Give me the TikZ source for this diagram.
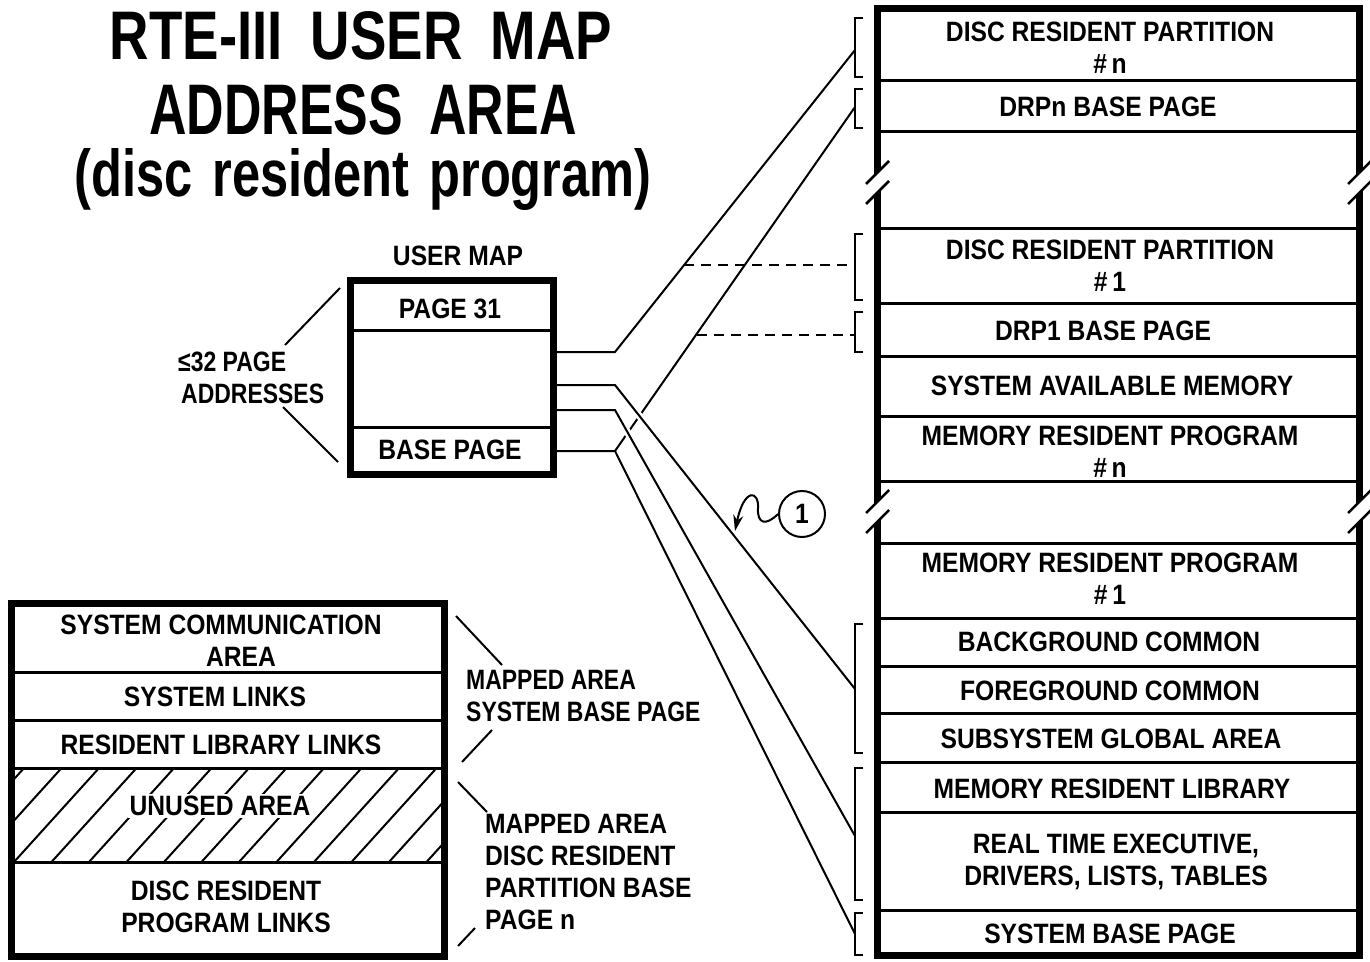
\documentclass[tikz,border=0pt]{standalone}
\usepackage{fontspec}
\usepackage{graphicx}
\setmainfont{Liberation Sans}[FakeStretch=0.88]
\newfontfamily\narrowfont{Liberation Sans}[FakeStretch=0.82]
\usetikzlibrary{arrows.meta,calc}
\begin{document}
\begin{tikzpicture}[x=1pt,y=-1pt,
  lbl/.style={font=\bfseries\fontsize{28}{32}\selectfont, inner sep=0pt, align=center},
  lbll/.style={lbl, align=left, anchor=west},
  nlbl/.style={lbll, font=\narrowfont\bfseries\fontsize{28}{32}\selectfont},
  thickbox/.style={line width=7pt},
  rowline/.style={line width=3pt},
  conn/.style={line width=2pt},
  halo/.style={preaction={draw=white,line width=7pt}},
  brk/.style={line width=2pt},
  dsh/.style={line width=2pt, dash pattern=on 10pt off 7pt},
  hatch/.style={line width=2pt},
  slash/.style={line width=2.5pt},
]
\useasboundingbox (0,0) rectangle (1370,961);
\fill[white] (0,0) rectangle (1370,961);

% ---------- title ----------
\node[inner sep=0pt] (t1) at (361,36) {\resizebox{502pt}{48pt}{\bfseries RTE-III\hspace{0.45em}USER\hspace{0.45em}MAP}};
\node[inner sep=0pt] (t2) at (363,110) {\resizebox{427pt}{50pt}{\bfseries ADDRESS\hspace{0.45em}AREA}};
\node[inner sep=0pt] (t3) at (363,180) {\resizebox*{577pt}{62pt}{\bfseries (disc\hspace{0.35em}resident\hspace{0.35em}program)}};

% ---------- user map ----------
\node[lbl] (umlabel) at (458,256) {USER MAP};
\draw[thickbox] (350.5,280.5) rectangle (553.5,474.5);
\draw[rowline] (354,330) -- (550,330);
\draw[rowline] (354,427) -- (550,427);
\node[lbl] (p31) at (450,309) {PAGE 31};
\node[lbl] (bp) at (450,450) {BASE PAGE};
\node[nlbl] (le32) at (178,378) {≤32 PAGE\\\hspace*{3pt}ADDRESSES};
\coordinate (la1) at (285,345); \coordinate (la2) at (340,288);
\coordinate (lb1) at (283,407); \coordinate (lb2) at (338,462);
\draw[conn] (la1) -- (la2);
\draw[conn] (lb1) -- (lb2);

% ---------- connector coordinates ----------
\coordinate (um1) at (557,352); \coordinate (b1) at (615,352);
\coordinate (um2) at (557,385); \coordinate (b2) at (615,385);
\coordinate (um3) at (557,410); \coordinate (b3) at (615,410);
\coordinate (um4) at (557,451); \coordinate (b4) at (615,451);
\coordinate (brdrpn) at (855,50);
\coordinate (brdrpnbp) at (855,107);
\coordinate (brdrpa) at (855,265);
\coordinate (brdrpabp) at (855,335);
\coordinate (brcom) at (855,689);
\coordinate (brrte) at (855,836);
\coordinate (brsbp) at (855,934);
\coordinate (d1) at (684,265);
\coordinate (d2) at (697,335);

\draw[conn] (um1) -- (b1) -- (brdrpn);
\draw[conn] (um4) -- (b4) -- (brdrpnbp);
\draw[conn] (b4) -- (brsbp);
\draw[conn,halo] (um2) -- (b2) -- (brcom);
\draw[conn,halo] (um3) -- (b3) -- (brrte);
\draw[dsh] (d1) -- (brdrpa);
\draw[dsh] (d2) -- (brdrpabp);

% ---------- brackets ----------
\foreach \ta/\tb in {18/77, 89/128, 234/300, 312/352, 624/753, 768/900, 913/955}
  \draw[brk] (863,\ta) -- (855,\ta) -- (855,\tb) -- (863,\tb);

% ---------- circled 1 ----------
\node[lbl, circle, draw, line width=2pt, minimum size=46pt] (c1) at (802,514) {1};
\draw[conn,-{Stealth[length=16pt,width=10pt]}] (c1.west) .. controls (766,526) and (757,524) .. (758,508) .. controls (759,490) and (744,488) .. (735,531);

% ---------- right column ----------
\draw[thickbox] (877,8) rectangle (1359,955);
\foreach \yy in {80,131,228,303,356,416,481,543,618,666,713,762,812,910}
  \draw[rowline] (880,\yy) -- (1356,\yy);
% break marks
\foreach \bx in {877,1359}{
  \foreach \yc in {183,512}{
    \fill[white] ($(\bx,\yc)+(-6,-4)$) -- ($(\bx,\yc)+(6,-16)$) -- ($(\bx,\yc)+(6,4)$) -- ($(\bx,\yc)+(-6,16)$) -- cycle;
    \draw[slash] ($(\bx,\yc)+(-11,1)$) -- ($(\bx,\yc)+(12,-22)$);
    \draw[slash] ($(\bx,\yc)+(-11,21)$) -- ($(\bx,\yc)+(12,-2)$);
  }
}
\node[lbl] (rdrpn) at (1110,48) {DISC RESIDENT PARTITION\\\#\,n};
\node[lbl] (rdrpnbp) at (1108,107) {DRPn BASE PAGE};
\node[lbl] (rdrpa) at (1110,265.5) {DISC RESIDENT PARTITION\\\#\,1};
\node[lbl] (rdrpabp) at (1103,331) {DRP1 BASE PAGE};
\node[lbl] (rsam) at (1112,386) {SYSTEM AVAILABLE MEMORY};
\node[lbl] (rmrpn) at (1110,452) {MEMORY RESIDENT PROGRAM\\\#\,n};
\node[lbl] (rmrpa) at (1110,579) {MEMORY RESIDENT PROGRAM\\\#\,1};
\node[lbl] (rbg) at (1109,642) {BACKGROUND COMMON};
\node[lbl] (rfg) at (1110,691) {FOREGROUND COMMON};
\node[lbl] (rsga) at (1111,739) {SUBSYSTEM GLOBAL AREA};
\node[lbl] (rmrl) at (1112,789) {MEMORY RESIDENT LIBRARY};
\node[lbl] (rrte) at (1116,862) {REAL TIME EXECUTIVE,\\DRIVERS, LISTS, TABLES};
\node[lbl] (rsbp) at (1110,934) {SYSTEM BASE PAGE};

% ---------- lower-left box ----------
\begin{scope}
  \clip (15,769.5) rectangle (441,860.5);
  \foreach \i in {-3,...,12}
    \draw[hatch] ({14+37.5*\i},862) -- ++(86,-95);
\end{scope}
\draw[thickbox] (11.5,603.5) rectangle (444,956);
\foreach \yy in {672,720,768,862}
  \draw[rowline] (15,\yy) -- (441,\yy);
\node[lbl] (sca) at (221,641) {SYSTEM COMMUNICATION\\\hspace*{40pt}AREA};
\node[lbl] (sl) at (215,697) {SYSTEM LINKS};
\node[lbl] (rll) at (221,745) {RESIDENT LIBRARY LINKS};
\node[lbl, fill=white, inner sep=2pt] (ua) at (220,806) {UNUSED AREA};
\node[lbl] (drpl) at (226,907) {DISC RESIDENT\\PROGRAM LINKS};

\node[nlbl] (ma1) at (466,696) {MAPPED AREA\\SYSTEM BASE PAGE};
\node[lbll] (ma2) at (485,872) {MAPPED AREA\\DISC RESIDENT\\PARTITION BASE\\PAGE n};
\coordinate (pa1) at (456,616); \coordinate (pa2) at (502,665);
\coordinate (pb1) at (462,762); \coordinate (pb2) at (492,730);
\coordinate (pc1) at (458,782); \coordinate (pc2) at (487,812);
\coordinate (pd1) at (458,946); \coordinate (pd2) at (475,928);
\draw[conn] (pa1) -- (pa2);
\draw[conn] (pb1) -- (pb2);
\draw[conn] (pc1) -- (pc2);
\draw[conn] (pd1) -- (pd2);
\end{tikzpicture}
\end{document}
